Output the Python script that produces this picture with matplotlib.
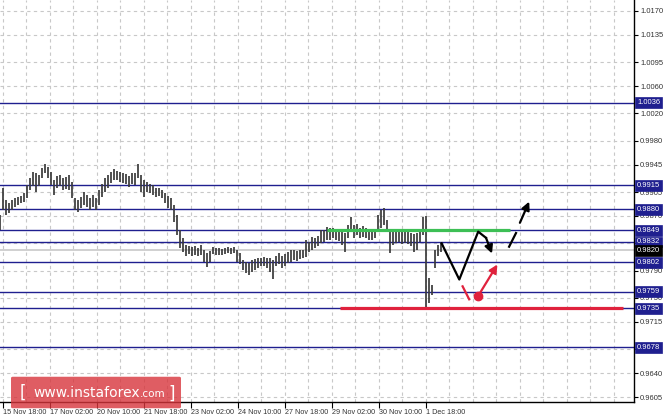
import numpy as np
import matplotlib
matplotlib.use('Agg')
import matplotlib.pyplot as plt
from matplotlib.patches import FancyBboxPatch
from matplotlib.transforms import blended_transform_factory

# price bars (one bar per ~2 trading hours), high / low
highs = [0.9871, 0.9911, 0.9893, 0.9889, 0.9893, 0.9896, 0.9898, 0.9899, 0.9904, 0.9915,
         0.9926, 0.9934, 0.9933, 0.9930, 0.9940, 0.9946, 0.9942, 0.9934, 0.9923, 0.9929,
         0.9930, 0.9926, 0.9927, 0.9930, 0.9920, 0.9896, 0.9893, 0.9898, 0.9905, 0.9901,
         0.9896, 0.9901, 0.9896, 0.9908, 0.9917, 0.9926, 0.9930, 0.9934, 0.9939, 0.9936,
         0.9934, 0.9933, 0.9931, 0.9929, 0.9933, 0.9933, 0.9946, 0.9930, 0.9923, 0.9920,
         0.9917, 0.9915, 0.9911, 0.9911, 0.9908, 0.9904, 0.9899, 0.9896, 0.9886, 0.9871,
         0.9850, 0.9838, 0.9828, 0.9826, 0.9825, 0.9826, 0.9823, 0.9828, 0.9820, 0.9816,
         0.9819, 0.9825, 0.9823, 0.9823, 0.9822, 0.9823, 0.9825, 0.9823, 0.9825, 0.9820,
         0.9816, 0.9806, 0.9803, 0.9801, 0.9806, 0.9807, 0.9809, 0.9809, 0.9810, 0.9809,
         0.9809, 0.9806, 0.9811, 0.9816, 0.9811, 0.9814, 0.9817, 0.9820, 0.9820, 0.9819,
         0.9820, 0.9820, 0.9835, 0.9832, 0.9839, 0.9838, 0.9841, 0.9850, 0.9850, 0.9854,
         0.9852, 0.9852, 0.9851, 0.9851, 0.9848, 0.9845, 0.9857, 0.9868, 0.9857, 0.9858,
         0.9852, 0.9855, 0.9852, 0.9850, 0.9847, 0.9850, 0.9871, 0.9879, 0.9882, 0.9864,
         0.9850, 0.9850, 0.9848, 0.9850, 0.9847, 0.9848, 0.9847, 0.9845, 0.9844, 0.9845,
         0.9850, 0.9868, 0.9870, 0.9779, 0.9769, 0.9820, 0.9828, 0.9830]
lows = [0.9849, 0.9879, 0.9871, 0.9874, 0.9879, 0.9883, 0.9886, 0.9889, 0.9890, 0.9896,
        0.9908, 0.9914, 0.9905, 0.9914, 0.9926, 0.9933, 0.9926, 0.9915, 0.9901, 0.9911,
        0.9914, 0.9908, 0.9910, 0.9908, 0.9896, 0.9879, 0.9876, 0.9882, 0.9886, 0.9883,
        0.9879, 0.9883, 0.9879, 0.9886, 0.9898, 0.9905, 0.9911, 0.9918, 0.9923, 0.9923,
        0.9920, 0.9918, 0.9917, 0.9912, 0.9917, 0.9915, 0.9926, 0.9905, 0.9898, 0.9905,
        0.9904, 0.9901, 0.9898, 0.9899, 0.9896, 0.9889, 0.9882, 0.9879, 0.9861, 0.9842,
        0.9823, 0.9817, 0.9811, 0.9814, 0.9811, 0.9813, 0.9811, 0.9813, 0.9803, 0.9795,
        0.9803, 0.9814, 0.9813, 0.9813, 0.9813, 0.9814, 0.9816, 0.9814, 0.9816, 0.9803,
        0.9800, 0.9791, 0.9787, 0.9784, 0.9788, 0.9791, 0.9794, 0.9797, 0.9797, 0.9794,
        0.9788, 0.9778, 0.9797, 0.9800, 0.9794, 0.9797, 0.9801, 0.9803, 0.9806, 0.9804,
        0.9807, 0.9809, 0.9810, 0.9817, 0.9820, 0.9823, 0.9826, 0.9830, 0.9832, 0.9835,
        0.9835, 0.9838, 0.9835, 0.9833, 0.9828, 0.9817, 0.9838, 0.9847, 0.9838, 0.9842,
        0.9838, 0.9839, 0.9838, 0.9835, 0.9835, 0.9838, 0.9850, 0.9852, 0.9857, 0.9847,
        0.9816, 0.9828, 0.9830, 0.9832, 0.9829, 0.9830, 0.9829, 0.9826, 0.9817, 0.9820,
        0.9832, 0.9842, 0.9735, 0.9743, 0.9754, 0.9794, 0.9811, 0.9817]

BAR_HOURS = 2.0426  # trading hours per drawn bar

# support / resistance levels (blue) and current price
levels = [1.0036, 0.9915, 0.9880, 0.9849, 0.9832, 0.9802, 0.9759, 0.9735, 0.9678]
current = 0.9820

# price axis ticks (labels under the level boxes are hidden)
y_ticks = [1.0170, 1.0135, 1.0095, 1.0060, 1.0020, 0.9980, 0.9945, 0.9905,
           0.9870, 0.9830, 0.9790, 0.9750, 0.9715, 0.9675, 0.9640, 0.9605]
y_labels = ['1.0170', '1.0135', '1.0095', '1.0060', '1.0020', '0.9980', '0.9945', '0.9905',
            '0.9870', '', '0.9790', '0.9750', '0.9715', '', '0.9640', '0.9605']

# time axis: trading hours after 15 Nov 18:00
x_tick_hours = [0, 32, 64, 96, 128, 160, 192, 224, 256, 288]
x_tick_labels = ['15 Nov 18:00', '17 Nov 02:00', '20 Nov 10:00', '21 Nov 18:00',
                 '23 Nov 02:00', '24 Nov 10:00', '27 Nov 18:00', '29 Nov 02:00',
                 '30 Nov 10:00', '1 Dec 18:00']
first_tick_bar = 1.0

# drawn scenario (bar index, price)
green_x = [109.0, 170.0]
green_y = [0.9850, 0.9850]
red_x = [113.3, 207.7]
red_y = [0.9735, 0.9735]
zig_x = [147.2, 153.1, 159.4, 162.0]
zig_y = [0.9830, 0.9777, 0.9847, 0.9838]
zig_arrow_end = (164.0, 0.9815)
dash_x = [169.7, 172.0]
dash_y = [0.9825, 0.9845]
up_arrow = ((173.3, 0.9860), (176.4, 0.9891))
red_dash_x = [154.2, 156.4]
red_dash_y = [0.9767, 0.9748]
red_dot = (159.4, 0.9753)
red_arrow_end = (165.8, 0.9799)

NAVY = '#1f1f8f'

fig = plt.figure(figsize=(6.64, 4.18), dpi=100)
ax = fig.add_axes([0, 16 / 418, 634 / 664, 402 / 418])
ax.set_xlim(0, 634 / 3)
ax.set_ylim(0.95977, 1.01861)

for s in ['top', 'left']:
    ax.spines[s].set_visible(False)
for s in ['right', 'bottom']:
    ax.spines[s].set_color('black')
    ax.spines[s].set_linewidth(1.0)

# grid
grid_hours = np.arange(0, 440, 16)
for g in first_tick_bar + grid_hours / BAR_HOURS:
    ax.axvline(g, color='#c8c8c8', lw=0.8, ls=(0, (3, 3)), zorder=0)
for t in y_ticks:
    ax.axhline(t, color='#c8c8c8', lw=0.8, ls=(0, (3, 3)), zorder=0)

# current price line and levels
ax.axhline(current, color='#c8c8c8', lw=1.2, zorder=1)
for lv in levels:
    ax.axhline(lv, color=NAVY, lw=1.0, zorder=2)

# price bars
bar_x = np.arange(len(highs))
ax.vlines(bar_x, lows, highs, color='#3a3a3a', lw=1.25, zorder=3)

# scenario drawing
ax.plot(green_x, green_y, color='#3dbf55', lw=2.3, solid_capstyle='butt', zorder=4)
ax.plot(red_x, red_y, color='#e0223d', lw=2.3, solid_capstyle='butt', zorder=4)
ax.plot(zig_x, zig_y, color='black', lw=1.6, zorder=5)
ax.annotate('', xy=zig_arrow_end, xytext=(zig_x[-1], zig_y[-1]),
            arrowprops=dict(arrowstyle='-|>', color='black', lw=1.6,
                            mutation_scale=12, shrinkA=0, shrinkB=0), zorder=5)
ax.plot(dash_x, dash_y, color='black', lw=1.6, zorder=5)
ax.annotate('', xy=up_arrow[1], xytext=up_arrow[0],
            arrowprops=dict(arrowstyle='-|>', color='black', lw=1.6,
                            mutation_scale=12, shrinkA=0, shrinkB=0), zorder=5)
ax.plot(red_dash_x, red_dash_y, color='#e0223d', lw=1.6, zorder=5)
ax.plot([red_dot[0]], [red_dot[1]], 'o', color='#e0223d', ms=6, zorder=5)
ax.annotate('', xy=red_arrow_end, xytext=red_dot,
            arrowprops=dict(arrowstyle='-|>', color='#e0223d', lw=1.6,
                            mutation_scale=12, shrinkA=0, shrinkB=0), zorder=5)

# axes ticks
ax.yaxis.tick_right()
ax.set_yticks(y_ticks)
ax.set_yticklabels(y_labels)
ax.tick_params(axis='y', labelsize=5.5, length=3, pad=1.5, labelcolor='#333333',
               width=0.8)
ax.set_xticks(first_tick_bar + np.array(x_tick_hours) / BAR_HOURS)
ax.set_xticklabels(x_tick_labels)
ax.tick_params(axis='x', labelsize=5.2, length=4, pad=1, labelcolor='#333333',
               width=0.8)
for lab in ax.get_xticklabels():
    lab.set_ha('left')
for lab in ax.get_xticklabels() + ax.get_yticklabels():
    lab.set_family('Liberation Sans')

# level boxes on the price scale
trans = blended_transform_factory(ax.transAxes, ax.transData)
for lv in levels:
    ax.text(1 + 3 / 634, lv, f'{lv:.4f}', transform=trans, ha='left', va='center',
            fontsize=5.5, family='Liberation Sans', color='white', clip_on=False,
            zorder=10, bbox=dict(boxstyle='square,pad=0.25', fc=NAVY, ec=NAVY, lw=0.5))
ax.text(1 + 3 / 634, current, f'{current:.4f}', transform=trans, ha='left',
        va='center', fontsize=5.5, family='Liberation Sans', color='white',
        clip_on=False, zorder=10,
        bbox=dict(boxstyle='square,pad=0.25', fc='black', ec='black', lw=0.5))

# watermark
wm = FancyBboxPatch((13 / 664, 11 / 418), 166 / 664, 29 / 418,
                    boxstyle='round,pad=0.003', transform=fig.transFigure,
                    fc='#d8353c', ec='none', alpha=0.8, zorder=20)
fig.patches.append(wm)
fig.text(20 / 664, 25 / 418, '[', color='white', fontsize=12, va='center', zorder=21)
t1 = fig.text(33 / 664, 25 / 418, 'www.instaforex', color='white', fontsize=10,
              va='center', zorder=21)
a2 = fig.add_artist(plt.Annotation('.com', xy=(1, 0.22), xycoords=t1, va='baseline',
                                   ha='left', color='white', fontsize=7.5, zorder=21))
fig.add_artist(plt.Annotation(']', xy=(1, 0.5), xycoords=a2, xytext=(2.5, 0),
                              textcoords='offset points', va='center', ha='left',
                              color='white', fontsize=12, zorder=21))

fig.savefig('out.png', dpi=100)
